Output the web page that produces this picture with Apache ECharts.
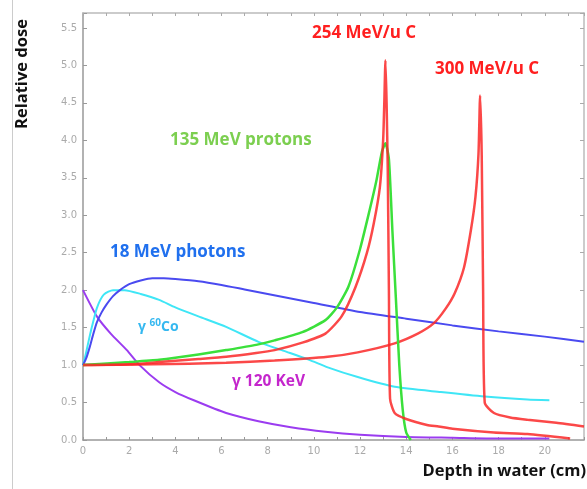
<!doctype html>
<html>
<head>
    <meta charset="utf-8">
    <title>Depth dose</title>
    <script src="https://cdn.jsdelivr.net/npm/echarts@6/dist/echarts.min.js"></script>
    <style>
        html, body { margin: 0; padding: 0; background: #fff; }
        #Chart { width: 587px; height: 489px; }
    </style>
</head>
<body>
    <div id="Chart"></div>
<script>
    // depth (cm) / relative dose
    var photons18X = [0, 0.15, 0.3, 0.45, 0.6, 0.8, 1.0, 1.3, 1.6, 2.0, 2.5, 3.0, 3.5, 4.0, 5.0, 6.0, 7.0, 8.0, 10, 12, 14, 16, 18, 20, 21.7];
    var photons18Y = [1.0, 1.1, 1.25, 1.42, 1.57, 1.7, 1.8, 1.92, 2.0, 2.08, 2.13, 2.16, 2.16, 2.15, 2.12, 2.07, 2.01, 1.95, 1.83, 1.71, 1.62, 1.53, 1.45, 1.38, 1.31];

    var co60X = [0, 0.1, 0.2, 0.3, 0.4, 0.5, 0.6, 0.75, 0.9, 1.1, 1.3, 1.8, 2.5, 3.3, 4.0, 5.0, 6.2, 7.6, 8.7, 9.8, 10.6, 11.9, 13.5, 15.5, 17.4, 19.25, 20.2];
    var co60Y = [1.0, 1.12, 1.26, 1.4, 1.53, 1.65, 1.76, 1.87, 1.94, 1.98, 2.0, 2.0, 1.95, 1.87, 1.77, 1.65, 1.51, 1.31, 1.19, 1.07, 0.97, 0.84, 0.71, 0.64, 0.58, 0.54, 0.53];

    var kev120X = [0, 0.6, 1.2, 1.9, 2.45, 3.3, 4.0, 4.8, 6.2, 7.6, 9.0, 10.5, 12, 14, 16, 18, 20.2];
    var kev120Y = [2.0, 1.65, 1.42, 1.2, 1.0, 0.77, 0.64, 0.53, 0.36, 0.25, 0.17, 0.11, 0.07, 0.04, 0.03, 0.02, 0.02];

    var protonX = [0, 2, 3.3, 5, 6.2, 7.5, 8.3, 9.5, 10.5, 11.0, 11.5, 12.0, 12.4, 12.7, 12.95, 13.1, 13.25, 13.4, 13.55, 13.7, 13.85, 14.0, 14.2];
    var protonY = [1.0, 1.04, 1.07, 1.14, 1.2, 1.27, 1.33, 1.44, 1.6, 1.77, 2.05, 2.55, 3.05, 3.45, 3.85, 3.96, 3.75, 2.8, 1.9, 1.0, 0.4, 0.1, 0.0];

    var carbon254X = [0, 2, 3.3, 5, 6.2, 7.5, 8.3, 9.5, 10.5, 11.2, 11.8, 12.3, 12.6, 12.86, 13.0, 13.05, 13.1, 13.15, 13.2, 13.25, 13.3, 13.5, 14, 14.9, 15.4, 16, 17.8, 19.25, 21.1];
    var carbon254Y = [1.0, 1.01, 1.04, 1.08, 1.11, 1.16, 1.2, 1.3, 1.42, 1.65, 2.04, 2.5, 2.9, 3.38, 4.0, 4.5, 5.07, 4.5, 3.6, 2.0, 0.55, 0.36, 0.28, 0.2, 0.18, 0.15, 0.1, 0.08, 0.02];

    var carbon300X = [0, 3, 6.2, 8.3, 10.6, 11.9, 13.5, 14.5, 15.2, 15.7, 16.1, 16.5, 16.8, 17.0, 17.13, 17.2, 17.27, 17.33, 17.4, 17.8, 18.5, 19.25, 20.5, 21.7];
    var carbon300Y = [1.0, 1.01, 1.03, 1.06, 1.11, 1.17, 1.29, 1.42, 1.56, 1.75, 1.96, 2.3, 2.8, 3.25, 3.82, 4.6, 3.8, 2.0, 0.5, 0.36, 0.3, 0.27, 0.23, 0.18];

    function pairs(xs, ys) {
        var out = [];
        for (var i = 0; i < xs.length; i++) out.push([xs[i], ys[i]]);
        return out;
    }

    function line(name, xs, ys, color, width) {
        return {
            name: name,
            type: 'line',
            xAxisIndex: 0,
            yAxisIndex: 0,
            showSymbol: false,
            symbol: 'none',
            smooth: 0.2,
            lineStyle: { color: color, width: width },
            data: pairs(xs, ys)
        };
    }

    var font = '"Open Sans", sans-serif';
    var myChart = echarts.init(document.getElementById('Chart'));
    var option = {
        animation: false,
        grid: { left: 83, right: 1, top: 13, bottom: 49 },
        xAxis: [{
            type: 'value', min: 0, max: 21.7, interval: 1, position: 'bottom',
            axisLine: { onZero: false, lineStyle: { color: '#999', width: 1.5 } },
            axisTick: { inside: true, length: 3, lineStyle: { color: '#999' } },
            axisLabel: {
                color: '#aaa', fontSize: 10, margin: 6, fontFamily: 'DejaVu Sans',
                formatter: function (v) { return (v % 2 === 0) ? String(v) : ''; }
            },
            splitLine: { show: false }
        }, {
            type: 'value', min: 0, max: 21.7, interval: 1, position: 'top',
            axisLine: { onZero: false, lineStyle: { color: '#bbb', width: 1.5 } },
            axisTick: { inside: true, length: 3, lineStyle: { color: '#aaa' } },
            axisLabel: { show: false },
            splitLine: { show: false }
        }],
        yAxis: [{
            type: 'value', min: 0, max: 5.7, interval: 0.5, position: 'left',
            axisLine: { onZero: false, lineStyle: { color: '#999', width: 1.5 } },
            axisTick: { inside: true, length: 4, lineStyle: { color: '#999' } },
            axisLabel: {
                color: '#aaa', fontSize: 10, margin: 6, fontFamily: 'DejaVu Sans',
                formatter: function (v) {
                    return Math.abs(v * 2 - Math.round(v * 2)) < 1e-6 ? v.toFixed(1) : '';
                }
            },
            splitLine: { show: false }
        }, {
            type: 'value', min: 0, max: 5.7, interval: 0.5, position: 'right',
            axisLine: { onZero: false, lineStyle: { color: '#bbb', width: 1.5 } },
            axisTick: { inside: true, length: 4, lineStyle: { color: '#aaa' } },
            axisLabel: { show: false },
            splitLine: { show: false }
        }],
        series: [
            line('γ 120 KeV', kev120X, kev120Y, '#9b3cf0', 2),
            line('γ 60Co', co60X, co60Y, '#3fe6f6', 2),
            line('18 MeV photons', photons18X, photons18Y, '#4a4af0', 2),
            line('300 MeV/u C', carbon300X, carbon300Y, 'rgba(250,40,40,0.85)', 2.5),
            line('135 MeV protons', protonX, protonY, '#3be03b', 2.5),
            line('254 MeV/u C', carbon254X, carbon254Y, 'rgba(250,40,40,0.85)', 2.5)
        ],
        graphic: [
            { type: 'line', shape: { x1: 12.5, y1: 0, x2: 12.5, y2: 489 }, style: { stroke: '#ccc', lineWidth: 1 } },
            { type: 'text', x: 22, y: 74, rotation: Math.PI / 2,
              style: { text: 'Relative dose', fill: '#111', font: 'bold 16.5px ' + font, align: 'center', verticalAlign: 'middle' } },
            { type: 'text', x: 586, y: 471,
              style: { text: 'Depth in water (cm)', fill: '#111', font: 'bold 16.5px ' + font, align: 'right', verticalAlign: 'middle' } },
            { type: 'text', x: 312, y: 33,
              style: { text: '254 MeV/u C', fill: '#ff1f1f', font: 'bold 17px ' + font, verticalAlign: 'middle' } },
            { type: 'text', x: 435, y: 69,
              style: { text: '300 MeV/u C', fill: '#ff1f1f', font: 'bold 17px ' + font, verticalAlign: 'middle' } },
            { type: 'text', x: 170, y: 140,
              style: { text: '135 MeV protons', fill: '#7ccf50', font: 'bold 17px ' + font, verticalAlign: 'middle' } },
            { type: 'text', x: 110, y: 252,
              style: { text: '18 MeV photons', fill: '#2070ee', font: 'bold 17px ' + font, verticalAlign: 'middle' } },
            { type: 'text', x: 138, y: 327,
              style: {
                  text: '{a|γ }{s|60}{a|Co}', verticalAlign: 'middle',
                  rich: {
                      a: { fill: '#35b8f0', font: 'bold 14px ' + font },
                      s: { fill: '#35b8f0', font: 'bold 10px ' + font, padding: [0, 0, 8, 0] }
                  }
              } },
            { type: 'text', x: 232, y: 382,
              style: { text: 'γ 120 KeV', fill: '#c426cc', font: 'bold 15.5px ' + font, verticalAlign: 'middle' } }
        ]
    };
    myChart.setOption(option);
</script>
</body>
</html>
